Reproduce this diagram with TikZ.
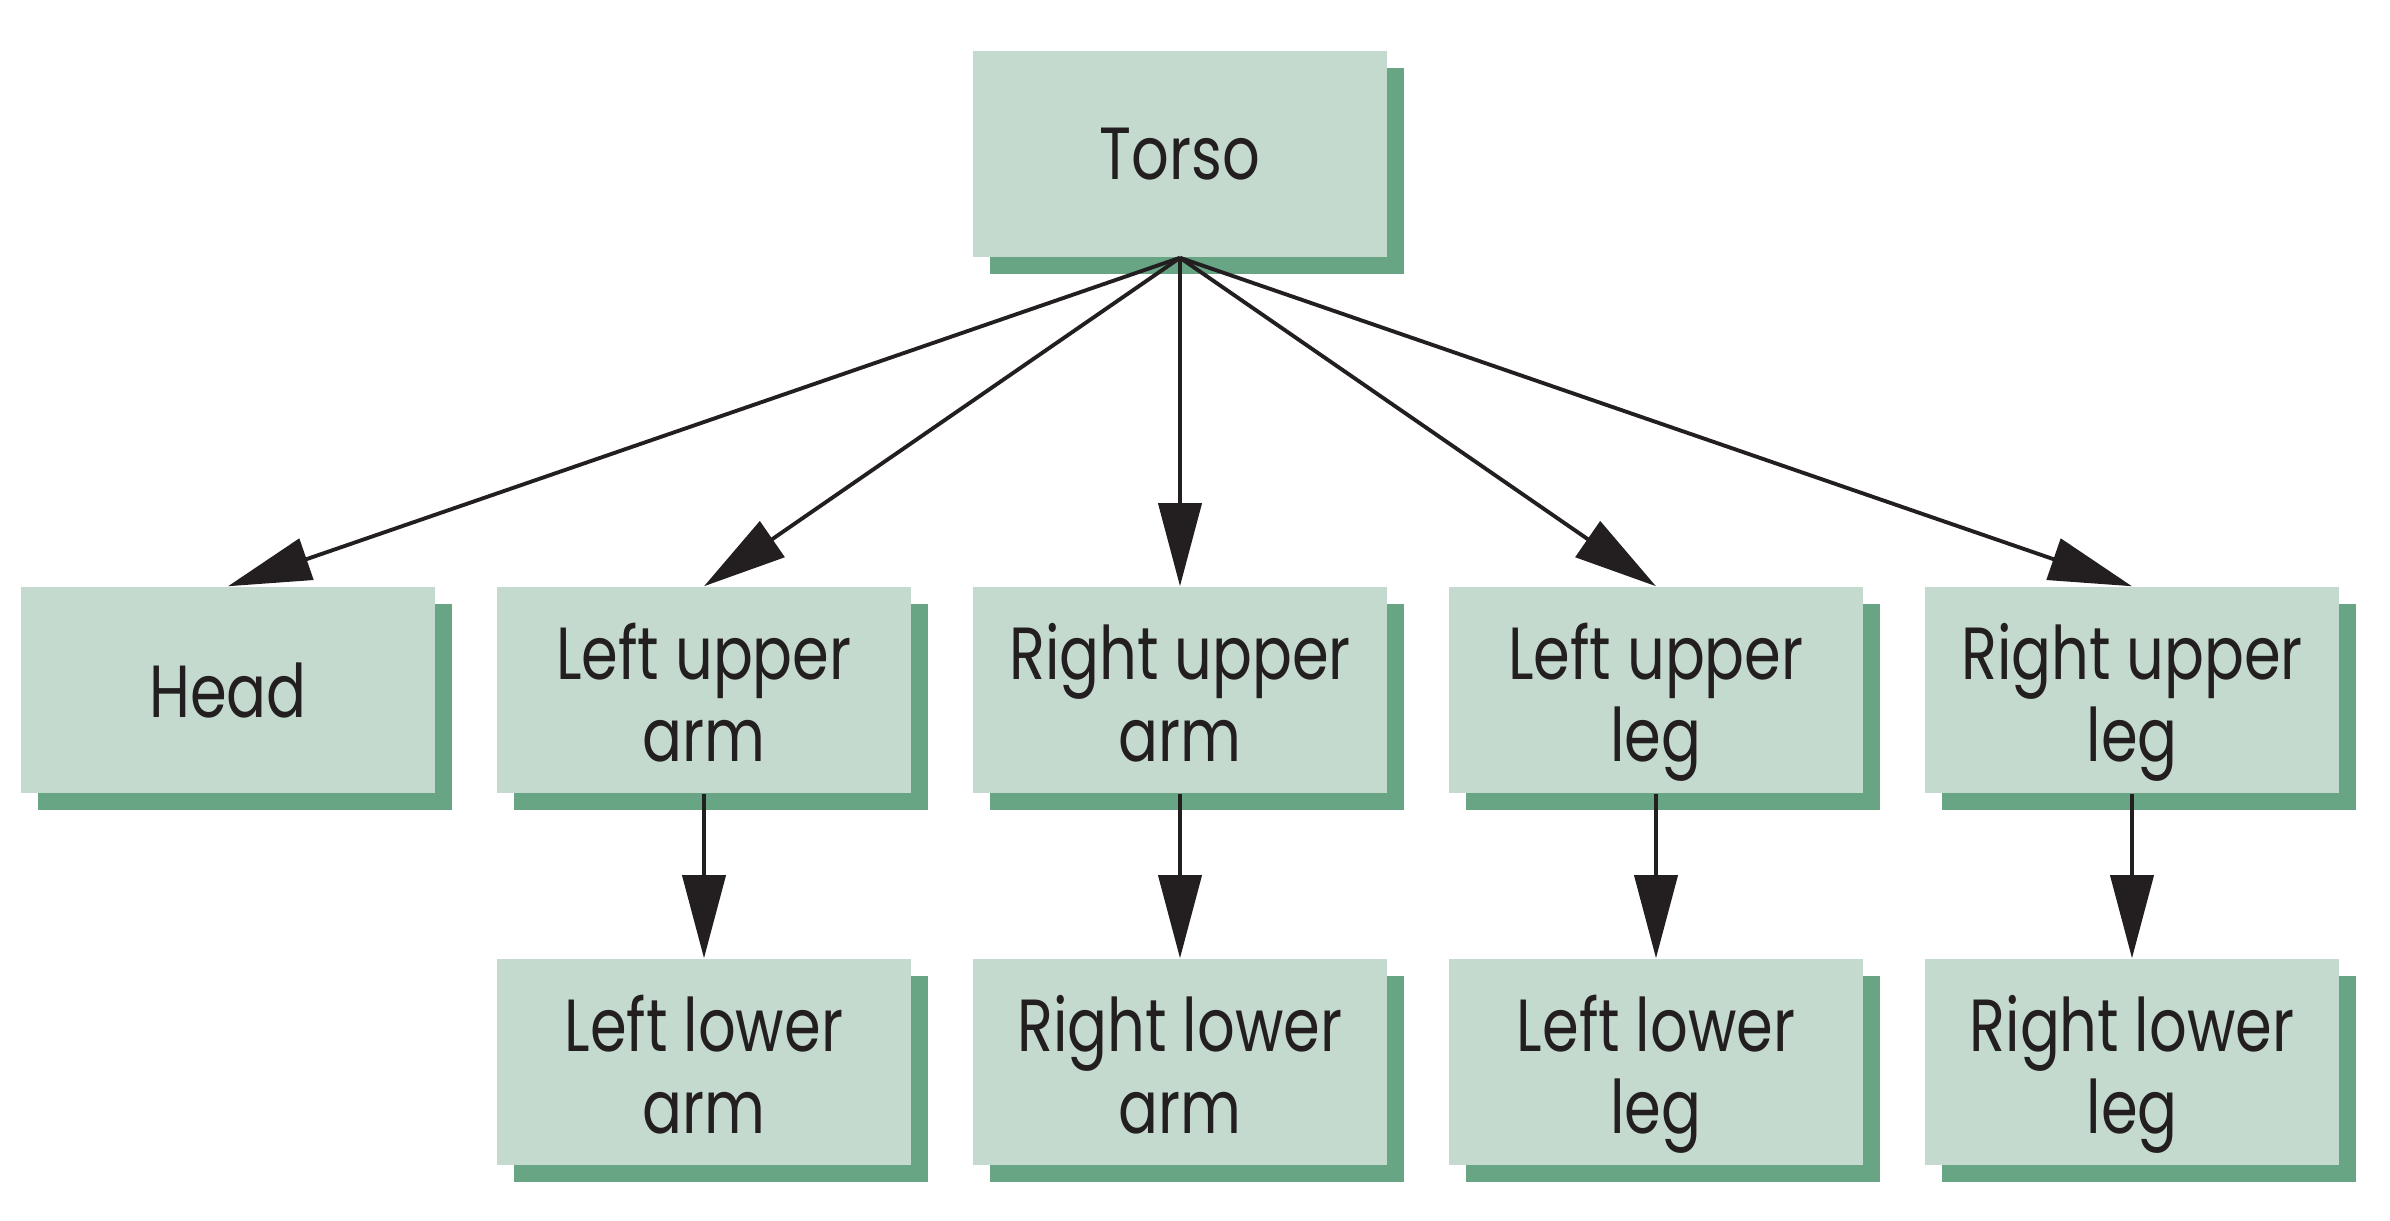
\documentclass[tikz,border=0pt]{standalone}
\usepackage{fontspec}
\setmainfont{Poppins}[FakeStretch=0.8]
\usetikzlibrary{arrows.meta,shadows}
\definecolor{boxfill}{HTML}{C5DACE}
\definecolor{shadowcol}{HTML}{68A584}
\definecolor{ink}{HTML}{231F20}
\tikzset{
  part/.style={fill=boxfill, draw=none, minimum width=4.13cm, minimum height=2.06cm,
    inner sep=0pt, align=center, text=ink,
    font=\fontsize{21}{23.3}\selectfont,
    general shadow={fill=shadowcol, shadow xshift=0.17cm, shadow yshift=-0.17cm}},
  twoline/.style={part, text height=40.4pt, text depth=0pt},
  link/.style={draw=ink, line width=1.1pt, -{Triangle[length=8.3mm,width=4.3mm]}}
}
\begin{document}
\begin{tikzpicture}[x=0.01cm,y=-0.01cm]
\useasboundingbox (0,0) rectangle (2390,1220);
\node[part] (torso) at (1180,154) {Torso};
\node[part] (head) at (228,690) {Head};
\node[twoline] (lua) at (704,690) {Left upper\\arm};
\node[twoline] (rua) at (1180,690) {Right upper\\arm};
\node[twoline] (lul) at (1656,690) {Left upper\\leg};
\node[twoline] (rul) at (2132,690) {Right upper\\leg};
\node[twoline] (lla) at (704,1062) {Left lower\\arm};
\node[twoline] (rla) at (1180,1062) {Right lower\\arm};
\node[twoline] (lll) at (1656,1062) {Left lower\\leg};
\node[twoline] (rll) at (2132,1062) {Right lower\\leg};
\foreach \t in {head,lua,rua,lul,rul}
  \draw[link] (torso.south) -- (\t.north);
\draw[link] (lua.south) -- (lla.north);
\draw[link] (rua.south) -- (rla.north);
\draw[link] (lul.south) -- (lll.north);
\draw[link] (rul.south) -- (rll.north);
\end{tikzpicture}
\end{document}
